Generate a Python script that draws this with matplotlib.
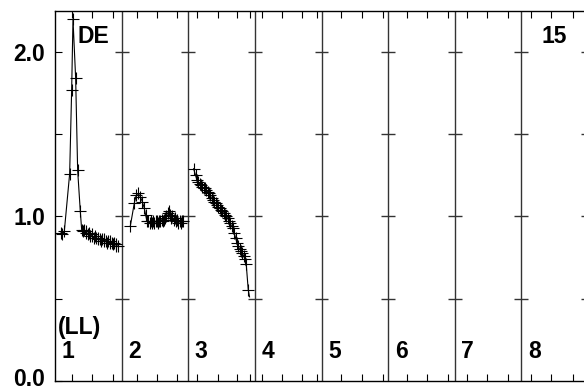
import matplotlib
matplotlib.use('Agg')
import matplotlib.pyplot as plt
import matplotlib.transforms as mtransforms
import numpy as np

plt.rcParams['font.family'] = ['Liberation Sans', 'DejaVu Sans']
plt.rcParams['font.weight'] = 'bold'

#dados de cada painel (x em unidades de painel, y em razao)
x1 = [0.09, 0.11, 0.14, 0.22, 0.25, 0.27, 0.31, 0.34, 0.38, 0.40,
      0.42, 0.44, 0.46, 0.47, 0.49, 0.51, 0.53, 0.55, 0.56, 0.58,
      0.60, 0.62, 0.64, 0.65, 0.67, 0.69, 0.71, 0.73, 0.74, 0.76,
      0.78, 0.80, 0.82, 0.83, 0.85, 0.87, 0.89, 0.91, 0.92, 0.94]
y1 = [0.90, 0.89, 0.91, 1.26, 1.77, 2.20, 1.84, 1.28, 1.03, 0.92,
      0.91, 0.92, 0.90, 0.91, 0.89, 0.90, 0.88, 0.89, 0.88, 0.87,
      0.88, 0.87, 0.86, 0.87, 0.86, 0.85, 0.86, 0.85, 0.86, 0.85,
      0.84, 0.85, 0.84, 0.85, 0.84, 0.83, 0.84, 0.83, 0.82, 0.82]

x2 = [1.13, 1.19, 1.22, 1.25, 1.28, 1.31, 1.34, 1.36, 1.38,
      1.40, 1.42, 1.44, 1.45, 1.47, 1.49, 1.51, 1.53, 1.54, 1.56,
      1.58, 1.60, 1.62, 1.63, 1.65, 1.67, 1.69, 1.71, 1.72, 1.74,
      1.76, 1.78, 1.80, 1.81, 1.83, 1.85, 1.87, 1.89, 1.90, 1.92]
y2 = [0.94, 1.08, 1.13, 1.14, 1.12, 1.09, 1.05, 1.01, 0.97,
      0.97, 0.96, 0.97, 0.96, 0.97, 0.96, 0.97, 0.97, 0.96, 0.97,
      0.97, 0.98, 0.97, 0.98, 0.99, 1.00, 1.02, 1.03, 1.01, 0.99,
      1.00, 0.98, 0.99, 0.97, 0.98, 0.96, 0.97, 0.96, 0.97, 0.97]

x3 = [2.08, 2.11, 2.13, 2.15, 2.17, 2.19, 2.21, 2.23, 2.25, 2.27,
      2.29, 2.31, 2.33, 2.35, 2.37, 2.39, 2.41, 2.43, 2.45, 2.47,
      2.49, 2.51, 2.53, 2.55, 2.57, 2.59, 2.61, 2.63, 2.65, 2.67,
      2.69, 2.71, 2.73, 2.75, 2.77, 2.79, 2.81, 2.83, 2.85, 2.87,
      2.90, 2.92]
y3 = [1.29, 1.25, 1.22, 1.21, 1.20, 1.19, 1.18, 1.17, 1.17, 1.16,
      1.15, 1.14, 1.13, 1.11, 1.10, 1.09, 1.08, 1.07, 1.06, 1.05,
      1.04, 1.03, 1.02, 1.01, 1.00, 0.99, 0.97, 0.96, 0.94, 0.93,
      0.90, 0.87, 0.84, 0.82, 0.80, 0.79, 0.78, 0.76, 0.74, 0.71,
      0.555, 0.51]

#posicoes dos ticks do eixo x (minor, sem rotulo)
xticks = [0.26, 0.55, 0.87, 1.23, 1.53, 1.83, 2.13, 2.44, 2.73, 2.93,
          3.10, 3.40, 3.70, 3.93, 4.30, 4.61, 4.93, 5.28, 5.58, 5.90,
          6.18, 6.48, 6.80, 7.15, 7.45, 7.78]
yticks = [0.0, 0.5, 1.0, 1.5, 2.0]
ylabels = ['0.0', '', '1.0', '', '2.0']
paineis = ['1', '2', '3', '4', '5', '6', '7', '8']

fig = plt.figure(figsize=(5.84, 3.91), dpi=100)
ax = fig.add_axes([55/584, 10.3/391, 533/584, 370.2/391])
ax.set_xlim(0, 8)
ax.set_ylim(0, 2.253)

#divisorias entre paineis com cruzes nos ticks do eixo y
for d in range(1, 9):
    ax.axvline(d, color='0.2', lw=1.0)
    ax.hlines(yticks[1:], d - 0.105, d + 0.105, color='0.2', lw=1.0)

#dados com '+' em cada ponto
ax.plot(x1, y1, color='black', lw=0.8, marker='+', ms=8.6, mew=0.8)
ax.plot(x2, y2, color='black', lw=0.8, marker='+', ms=8.6, mew=0.8)
ax.plot(x3, y3, color='black', lw=0.8, marker='+', ms=8.6, mew=0.8,
        markevery=list(range(len(x3) - 1)))

ax.set_xticks(xticks)
ax.set_xticklabels([])
ax.set_yticks(yticks)
ax.set_yticklabels(ylabels)
ax.tick_params(axis='x', direction='in', length=4.7, width=0.8, top=True)
ax.tick_params(axis='y', direction='in', length=5, width=0.8, pad=7,
               labelsize=16.5)
for s in ax.spines.values():
    s.set_linewidth(1.0)

#o rotulo 0.0 fica colado na borda de baixo: sobe um pouco
lab0 = ax.get_yticklabels()[0]
lab0.set_transform(lab0.get_transform() +
                   mtransforms.ScaledTranslation(0, 3/72, fig.dpi_scale_trans))

#rotulos
for i, p in enumerate(paineis):
    ax.text(i + 0.1, 0.138, p, fontsize=16.5, fontweight='bold', va='baseline')
ax.text(0.045, 0.284, '(LL)', fontsize=16.5, fontweight='bold', va='baseline')
ax.text(0.34, 2.055, 'DE', fontsize=16.5, fontweight='bold', va='baseline')
ax.text(7.30, 2.055, '15', fontsize=16.5, fontweight='bold', va='baseline')

fig.savefig('out.png', dpi=100)
